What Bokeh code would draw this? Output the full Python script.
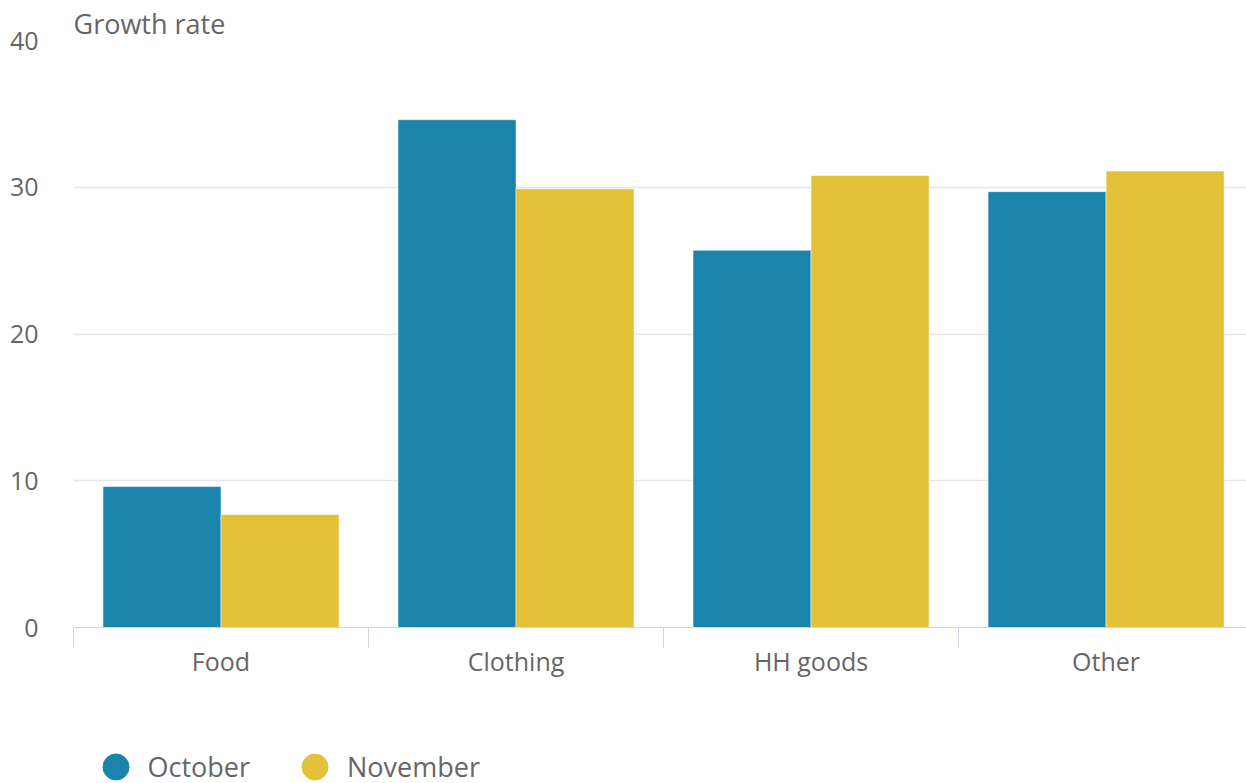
from bokeh.plotting import figure
from bokeh.models import (ColumnDataSource, Range1d, FixedTicker, Legend, LegendItem)
from bokeh.layouts import column
from bokeh.transform import dodge
from bokeh.embed import file_html
from bokeh.resources import INLINE

categories = ["Food", "Clothing", "HH goods", "Other"]
october = [9.6, 34.6, 25.7, 29.7]
november = [7.7, 29.9, 30.8, 31.1]
series_names = ["October", "November"]
y_ticks = [0, 10, 20, 30, 40]

BLUE = "#1b84ad"
YELLOW = "#e3c23a"
TEXT = "#666666"
FONT = "Open Sans"

pos = [i + 0.5 for i in range(len(categories))]
src = ColumnDataSource(dict(pos=pos, cat=categories, oct=october, nov=november))

p = figure(width=1246, height=680, output_backend="svg", toolbar_location=None,
           x_range=Range1d(0, 3.976), y_range=Range1d(0, 40),
           min_border_left=73, min_border_right=0, min_border_top=40,
           min_border_bottom=53)
p.outline_line_color = None
p.background_fill_color = "white"
p.border_fill_color = "white"

p.title.text = "Growth rate"
p.title.align = "left"
p.title.text_font = FONT
p.title.text_font_size = "27px"
p.title.text_font_style = "normal"
p.title.text_color = TEXT
p.title.standoff = -2

r1 = p.vbar(x=dodge("pos", -0.2, range=p.x_range), top="oct", width=0.4, bottom=0,
            source=src, fill_color=BLUE, line_color="white", line_alpha=0.5, line_width=1)
r2 = p.vbar(x=dodge("pos", 0.2, range=p.x_range), top="nov", width=0.4, bottom=0,
            source=src, fill_color=YELLOW, line_color="white", line_alpha=0.5, line_width=1)

# x axis
xa = p.xaxis[0]
xa.ticker = FixedTicker(ticks=pos, minor_ticks=list(range(len(categories))))
xa.major_label_overrides = {pv: c for pv, c in zip(pos, categories)}
xa.major_tick_out = 0
xa.major_tick_in = 0
xa.minor_tick_in = 0
xa.minor_tick_out = 20
xa.minor_tick_line_color = "#ccd6eb"
xa.axis_line_color = "#ccd6eb"
xa.major_label_text_font = FONT
xa.major_label_text_font_size = "25px"
xa.major_label_text_color = TEXT
xa.major_label_standoff = -4

# y axis
ya = p.yaxis[0]
ya.ticker = FixedTicker(ticks=y_ticks)
ya.axis_line_color = None
ya.major_tick_line_color = None
ya.minor_tick_line_color = None
ya.major_label_text_font = FONT
ya.major_label_text_font_size = "25px"
ya.major_label_text_color = TEXT
ya.major_label_standoff = 29

p.xgrid.grid_line_color = None
p.ygrid.grid_line_color = "#e6e6e6"
p.ygrid.grid_line_width = 1.5

# legend in its own strip below the chart (markers hidden: NaN positions)
lg = figure(width=1246, height=103, output_backend="svg", toolbar_location=None,
            x_range=Range1d(0, 1), y_range=Range1d(0, 1),
            x_axis_location=None, y_axis_location=None,
            min_border_left=73, min_border_right=0, min_border_top=0, min_border_bottom=0)
lg.outline_line_color = None
lg.xgrid.grid_line_color = None
lg.ygrid.grid_line_color = None
nan = float("nan")
s1 = lg.scatter(x=[nan], y=[nan], marker="circle", size=26, fill_color=BLUE, line_color=BLUE)
s2 = lg.scatter(x=[nan], y=[nan], marker="circle", size=26, fill_color=YELLOW, line_color=YELLOW)
legend = Legend(items=[LegendItem(label=series_names[0], renderers=[s1], index=0),
                       LegendItem(label=series_names[1], renderers=[s2], index=0)],
                orientation="horizontal", location=(9.5, -16),
                padding=0, margin=0, spacing=32,
                glyph_width=65, glyph_height=65, label_standoff=-7,
                label_text_font=FONT, label_text_font_size="27px",
                label_text_color=TEXT,
                background_fill_alpha=0, border_line_color=None)
lg.add_layout(legend, "center")

layout = column(p, lg, spacing=0)
open("out.html", "w").write(file_html(layout, INLINE))
